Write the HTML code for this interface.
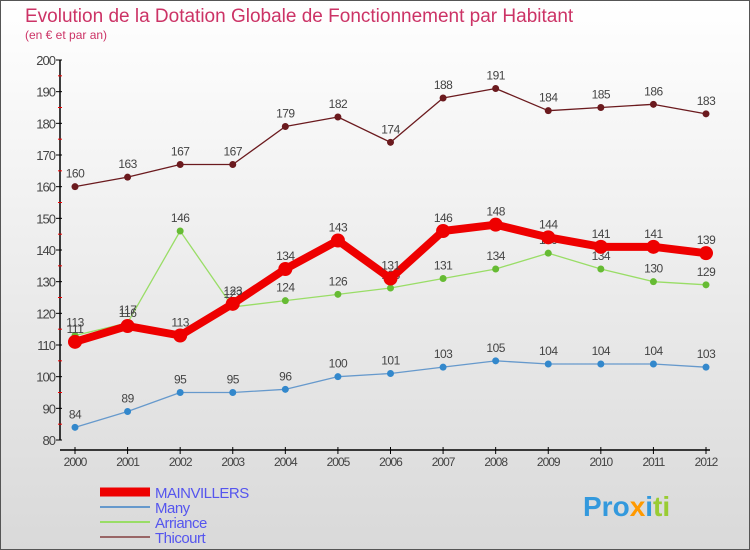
<!DOCTYPE html>
<html><head><meta charset="utf-8"><style>
body{margin:0;width:750px;height:550px;overflow:hidden;font-family:"Liberation Sans",sans-serif}
svg{display:block}
</style></head><body>
<svg id="c" width="750" height="550">
<defs><linearGradient id="bg" x1="0" y1="0" x2="0" y2="1"><stop offset="0" stop-color="#ffffff"/><stop offset="1" stop-color="#d9d9d9"/></linearGradient></defs>
<rect x="0.5" y="0.5" width="749" height="549" fill="url(#bg)" stroke="#555"/>
<text x="25" y="22" font-size="19" fill="#cc3366">Evolution de la Dotation Globale de Fonctionnement par Habitant</text>
<text x="25" y="39" font-size="12" fill="#cc3366">(en € et par an)</text>
<g id="axes"></g><g id="series"></g><g id="legend"></g>
<text x="583" y="516" font-size="28" font-weight="bold" fill="#3399dd">Pro<tspan fill="#ff9900">x</tspan><tspan fill="#3399dd">i</tspan><tspan fill="#99cc33">ti</tspan></text>
</svg>
<script>
const years=[2000,2001,2002,2003,2004,2005,2006,2007,2008,2009,2010,2011,2012];
const yTicks=[80,90,100,110,120,130,140,150,160,170,180,190,200];
const mainvillers=[111,116,113,123,134,143,131,146,148,144,141,141,139];
const many=[84,89,95,95,96,100,101,103,105,104,104,104,103];
const arriance=[113,117,146,122,124,126,128,131,134,139,134,130,129];
const thicourt=[160,163,167,167,179,182,174,188,191,184,185,186,183];
const NS="http://www.w3.org/2000/svg";
const X=i=>75+i*(706-75)/12;
const Y=v=>440-(v-80)*(380/120);
function mk(p,t,a){const e=document.createElementNS(NS,t);for(const k in a)e.setAttribute(k,a[k]);p.appendChild(e);return e;}
const ax=document.getElementById('axes');
mk(ax,'line',{x1:60,y1:60,x2:60,y2:440,stroke:'#000','stroke-width':1.5});
mk(ax,'line',{x1:60,y1:450,x2:710,y2:450,stroke:'#000','stroke-width':1.5});
yTicks.forEach(v=>{
 mk(ax,'line',{x1:56,y1:Y(v),x2:62,y2:Y(v),stroke:'#000'});
 if(v<200)mk(ax,'line',{x1:58,y1:Y(v+5),x2:62,y2:Y(v+5),stroke:'#e00'});
 const t=mk(ax,'text',{x:55,y:Y(v)+5,'text-anchor':'end','font-size':13,fill:'#444','letter-spacing':'-1'});
 t.textContent=v;
 
 
});
years.forEach((yr,i)=>{
 mk(ax,'line',{x1:X(i),y1:447,x2:X(i),y2:454,stroke:'#000'});
 const t=mk(ax,'text',{x:X(i),y:466,'text-anchor':'middle','font-size':12,fill:'#444','letter-spacing':'-1'});
 t.textContent=yr;
 
 
});
const sg=document.getElementById('series');
const defs=[
 {n:'thicourt',d:thicourt,c:'#6b1a1e',w:1.3,r:3.5},
 {n:'arriance',d:arriance,c:'#99dd66',w:1.3,r:3.5,fc:'#66bb33'},
 {n:'many',d:many,c:'#6699cc',w:1.3,r:3.5,fc:'#3388cc'},
 {n:'mainvillers',d:mainvillers,c:'#ee0000',w:8,r:7}
];
defs.forEach(s=>{
 const g=mk(sg,'g',{});
 
 
 const l=mk(g,'polyline',{points:s.d.map((v,i)=>X(i)+','+Y(v)).join(' '),fill:'none',stroke:s.c,'stroke-width':s.w,'stroke-linejoin':'round'});
 
 
 s.d.forEach((v,i)=>{
  const p=mk(g,'circle',{cx:X(i),cy:Y(v),r:s.r,fill:s.fc||s.c});
  
  
  const t=mk(g,'text',{x:X(i),y:Y(v)-9,'text-anchor':'middle','font-size':12,fill:'#444','letter-spacing':'-0.5'});
  t.textContent=v;
  
  
 });
});
const lg=document.getElementById('legend');
const items=[['MAINVILLERS','#ee0000',9],['Many','#6699cc',2],['Arriance','#99dd66',2],['Thicourt','#996666',2]];
items.forEach((it,k)=>{
 const y=492+k*15;
 const g=mk(lg,'g',{});
 
 
 mk(g,'line',{x1:100,y1:y,x2:150,y2:y,stroke:it[1],'stroke-width':it[2]});
 const t=mk(g,'text',{x:155,y:y+6,'font-size':15,fill:'#5555ee','letter-spacing':'-0.5'});
 t.textContent=it[0];
});
</script>
</body></html>
